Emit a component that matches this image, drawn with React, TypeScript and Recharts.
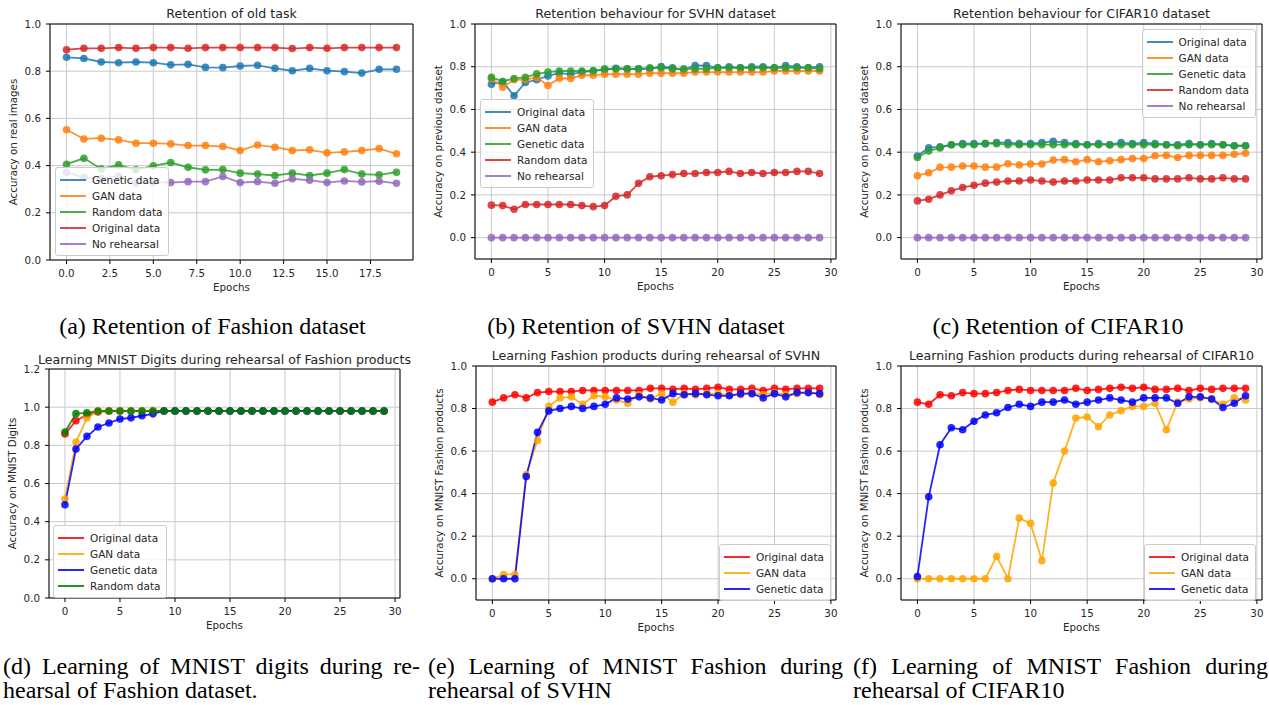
import React from 'react';
import { LineChart, Line, XAxis, YAxis, CartesianGrid, ReferenceArea, Legend } from 'recharts';

const FONT = '"DejaVu Sans", Verdana, sans-serif';
const SERIF = '"Liberation Serif", "Times New Roman", serif';

// matplotlib colours
const C_BLUE = '#1f77b4';
const C_ORANGE = '#ff7f0e';
const C_GREEN = '#2ca02c';
const C_RED = '#d62728';
const C_PURPLE = '#9467bd';
const N_RED = '#ff0000';
const N_ORANGE = '#ffa500';
const N_BLUE = '#0000ff';
const N_GREEN = '#008000';

const epochs20 = [0, 1, 2, 3, 4, 5, 6, 7, 8, 9, 10, 11, 12, 13, 14, 15, 16, 17, 18, 19];
const epochs30 = [0, 1, 2, 3, 4, 5, 6, 7, 8, 9, 10, 11, 12, 13, 14, 15, 16, 17, 18, 19, 20, 21, 22, 23, 24, 25, 26, 27, 28, 29];

const ticks20 = [0, 2.5, 5, 7.5, 10, 12.5, 15, 17.5];
const ticks30 = [0, 5, 10, 15, 20, 25, 30];
const yTicks10 = [0, 0.2, 0.4, 0.6, 0.8, 1.0];
const yTicks12 = [0, 0.2, 0.4, 0.6, 0.8, 1.0, 1.2];

// (a) retention of Fashion
const fashionGenetic = [0.859, 0.854, 0.839, 0.836, 0.839, 0.836, 0.827, 0.829, 0.816, 0.815, 0.822, 0.825, 0.812, 0.802, 0.812, 0.802, 0.798, 0.792, 0.808, 0.808];
const fashionGan = [0.552, 0.513, 0.516, 0.509, 0.495, 0.495, 0.492, 0.485, 0.485, 0.481, 0.464, 0.487, 0.478, 0.464, 0.467, 0.454, 0.458, 0.464, 0.472, 0.45];
const fashionRandom = [0.406, 0.431, 0.386, 0.403, 0.382, 0.399, 0.413, 0.393, 0.382, 0.383, 0.368, 0.364, 0.358, 0.368, 0.358, 0.368, 0.383, 0.364, 0.361, 0.372];
const fashionOriginal = [0.891, 0.897, 0.897, 0.9, 0.897, 0.9, 0.9, 0.897, 0.9, 0.9, 0.9, 0.9, 0.9, 0.896, 0.9, 0.897, 0.9, 0.9, 0.9, 0.9];
const fashionNone = [0.372, 0.349, 0.345, 0.355, 0.325, 0.33, 0.328, 0.332, 0.332, 0.354, 0.328, 0.332, 0.325, 0.344, 0.338, 0.328, 0.335, 0.331, 0.334, 0.325];

// (b) retention of SVHN
const svhnOriginal = [0.718, 0.73, 0.664, 0.726, 0.739, 0.757, 0.77, 0.765, 0.775, 0.781, 0.785, 0.793, 0.79, 0.79, 0.79, 0.801, 0.795, 0.785, 0.806, 0.805, 0.795, 0.8, 0.795, 0.8, 0.8, 0.795, 0.805, 0.8, 0.795, 0.8];
const svhnGan = [0.745, 0.704, 0.739, 0.74, 0.75, 0.712, 0.746, 0.745, 0.76, 0.76, 0.765, 0.765, 0.765, 0.765, 0.77, 0.77, 0.77, 0.77, 0.775, 0.775, 0.775, 0.775, 0.775, 0.775, 0.775, 0.78, 0.78, 0.78, 0.78, 0.78];
const svhnGenetic = [0.75, 0.731, 0.745, 0.75, 0.767, 0.775, 0.78, 0.78, 0.78, 0.78, 0.79, 0.79, 0.79, 0.79, 0.795, 0.795, 0.79, 0.79, 0.79, 0.79, 0.795, 0.795, 0.795, 0.795, 0.795, 0.795, 0.795, 0.795, 0.795, 0.79];
const svhnRandom = [0.152, 0.15, 0.133, 0.155, 0.155, 0.155, 0.155, 0.155, 0.15, 0.145, 0.15, 0.194, 0.2, 0.254, 0.285, 0.29, 0.295, 0.3, 0.3, 0.305, 0.305, 0.31, 0.3, 0.305, 0.3, 0.305, 0.305, 0.31, 0.31, 0.3];
const svhnNone = [0, 0, 0, 0, 0, 0, 0, 0, 0, 0, 0, 0, 0, 0, 0, 0, 0, 0, 0, 0, 0, 0, 0, 0, 0, 0, 0, 0, 0, 0];

// (c) retention of CIFAR10
const cifarOriginal = [0.382, 0.421, 0.425, 0.435, 0.44, 0.44, 0.44, 0.445, 0.445, 0.44, 0.44, 0.445, 0.451, 0.445, 0.44, 0.435, 0.44, 0.435, 0.445, 0.44, 0.445, 0.44, 0.435, 0.435, 0.44, 0.435, 0.44, 0.435, 0.43, 0.43];
const cifarGan = [0.29, 0.304, 0.329, 0.33, 0.335, 0.335, 0.33, 0.33, 0.346, 0.34, 0.345, 0.345, 0.363, 0.365, 0.355, 0.365, 0.355, 0.36, 0.365, 0.37, 0.37, 0.383, 0.385, 0.375, 0.385, 0.385, 0.385, 0.385, 0.39, 0.395];
const cifarGenetic = [0.375, 0.405, 0.42, 0.435, 0.435, 0.435, 0.44, 0.44, 0.435, 0.435, 0.435, 0.435, 0.435, 0.435, 0.435, 0.435, 0.435, 0.435, 0.435, 0.435, 0.435, 0.435, 0.435, 0.43, 0.435, 0.435, 0.435, 0.435, 0.43, 0.43];
const cifarRandom = [0.172, 0.18, 0.2, 0.219, 0.235, 0.245, 0.255, 0.26, 0.265, 0.265, 0.27, 0.265, 0.26, 0.265, 0.265, 0.27, 0.27, 0.27, 0.28, 0.28, 0.28, 0.275, 0.275, 0.275, 0.28, 0.275, 0.275, 0.28, 0.275, 0.275];
const cifarNone = [0, 0, 0, 0, 0, 0, 0, 0, 0, 0, 0, 0, 0, 0, 0, 0, 0, 0, 0, 0, 0, 0, 0, 0, 0, 0, 0, 0, 0, 0];

// (d) learning MNIST digits
const mnistOriginal = [0.859, 0.929, 0.96, 0.975, 0.98, 0.98, 0.98, 0.98, 0.98, 0.98, 0.98, 0.98, 0.98, 0.98, 0.98, 0.98, 0.98, 0.98, 0.98, 0.98, 0.98, 0.98, 0.98, 0.98, 0.98, 0.98, 0.98, 0.98, 0.98, 0.98];
const mnistGan = [0.519, 0.817, 0.943, 0.98, 0.98, 0.98, 0.98, 0.98, 0.98, 0.98, 0.98, 0.98, 0.98, 0.98, 0.98, 0.98, 0.98, 0.98, 0.98, 0.98, 0.98, 0.98, 0.98, 0.98, 0.98, 0.98, 0.98, 0.98, 0.98, 0.98];
const mnistGenetic = [0.489, 0.781, 0.847, 0.896, 0.917, 0.938, 0.944, 0.955, 0.965, 0.98, 0.98, 0.98, 0.98, 0.98, 0.98, 0.98, 0.98, 0.98, 0.98, 0.98, 0.98, 0.98, 0.98, 0.98, 0.98, 0.98, 0.98, 0.98, 0.98, 0.98];
const mnistRandom = [0.87, 0.966, 0.97, 0.98, 0.98, 0.98, 0.98, 0.98, 0.98, 0.98, 0.98, 0.98, 0.98, 0.98, 0.98, 0.98, 0.98, 0.98, 0.98, 0.98, 0.98, 0.98, 0.98, 0.98, 0.98, 0.98, 0.98, 0.98, 0.98, 0.98];

// (e) learning Fashion during SVHN rehearsal
const fsOriginal = [0.83, 0.85, 0.865, 0.85, 0.875, 0.88, 0.88, 0.88, 0.885, 0.885, 0.885, 0.885, 0.885, 0.885, 0.895, 0.895, 0.89, 0.895, 0.89, 0.895, 0.9, 0.89, 0.89, 0.895, 0.885, 0.895, 0.89, 0.895, 0.895, 0.895];
const fsGan = [0, 0.02, 0.02, 0.49, 0.65, 0.81, 0.85, 0.855, 0.82, 0.86, 0.855, 0.84, 0.825, 0.865, 0.845, 0.87, 0.83, 0.87, 0.865, 0.87, 0.87, 0.865, 0.865, 0.875, 0.865, 0.875, 0.865, 0.87, 0.875, 0.865];
const fsGenetic = [0, 0, 0, 0.48, 0.688, 0.789, 0.8, 0.81, 0.8, 0.81, 0.82, 0.85, 0.845, 0.855, 0.85, 0.84, 0.87, 0.865, 0.87, 0.865, 0.86, 0.86, 0.87, 0.87, 0.85, 0.87, 0.855, 0.875, 0.875, 0.87];

// (f) learning Fashion during CIFAR10 rehearsal
const fcOriginal = [0.83, 0.82, 0.865, 0.86, 0.875, 0.87, 0.87, 0.875, 0.885, 0.89, 0.885, 0.885, 0.885, 0.885, 0.895, 0.885, 0.89, 0.895, 0.9, 0.895, 0.9, 0.89, 0.89, 0.895, 0.885, 0.895, 0.89, 0.895, 0.895, 0.895];
const fcGan = [0, 0, 0, 0, 0, 0, 0, 0.105, 0, 0.285, 0.26, 0.085, 0.45, 0.6, 0.755, 0.76, 0.715, 0.77, 0.79, 0.81, 0.81, 0.825, 0.7, 0.83, 0.845, 0.85, 0.845, 0.82, 0.85, 0.84];
const fcGenetic = [0.01, 0.385, 0.63, 0.71, 0.7, 0.74, 0.77, 0.78, 0.805, 0.82, 0.81, 0.83, 0.83, 0.84, 0.82, 0.83, 0.84, 0.85, 0.84, 0.83, 0.85, 0.85, 0.85, 0.825, 0.855, 0.855, 0.845, 0.805, 0.825, 0.86];

type Series = { name: string; values: number[]; color: string };
type PanelProps = {
  left: number;
  top: number;
  w: number;
  h: number;
  titleY: number;
  title: string;
  yLabel: string;
  epochs: number[];
  series: Series[];
  xDomain: [number, number];
  xTicks: number[];
  xFmt: (v: number) => string;
  yDomain: [number, number];
  yTicks: number[];
  legend: { left?: number; right?: number; top: number };
};

const YW = 46;
const XH = 34;
const MT = 8;
const MR = 8;
const TXT = 10.3;
const tickStyle = { fontSize: TXT, fill: '#262626', fontFamily: FONT };

function LegendBox({ series }: { series: Series[] }) {
  return (
    <div
      style={{
        display: 'inline-block',
        padding: '4px 6px 3px 4px',
        border: '1px solid #cccccc',
        borderRadius: 3,
        background: 'rgba(255,255,255,0.8)',
        fontFamily: FONT,
        fontSize: 10.5,
        color: '#262626',
        whiteSpace: 'nowrap',
      }}
    >
      {series.map((s) => (
        <div key={s.name} style={{ display: 'flex', alignItems: 'center', height: 16 }}>
          <span style={{ display: 'inline-block', width: 26, height: 2, background: s.color, opacity: 0.85, marginRight: 6 }} />
          <span>{s.name}</span>
        </div>
      ))}
    </div>
  );
}

function Panel(p: PanelProps) {
  const data = p.epochs.map((e, i) => {
    const row: Record<string, number> = { epoch: e };
    p.series.forEach((s, k) => {
      row['s' + k] = s.values[i];
    });
    return row;
  });
  const chartLeft = p.left - YW;
  const chartTop = p.top - MT;
  const width = YW + p.w + MR;
  const height = MT + p.h + XH;
  const lg: React.CSSProperties = { top: p.legend.top - chartTop, width: 'auto' };
  if (p.legend.right !== undefined) {
    lg.left = 'auto';
    lg.right = chartLeft + width - p.legend.right;
  } else {
    lg.left = (p.legend.left ?? 0) - chartLeft;
  }
  return (
    <>
      <div
        style={{
          position: 'absolute',
          left: p.left + p.w / 2 - 250,
          width: 500,
          top: p.titleY - 8,
          lineHeight: '16px',
          textAlign: 'center',
          fontFamily: FONT,
          fontSize: 12.6,
          color: '#262626',
          whiteSpace: 'nowrap',
        }}
      >
        {p.title}
      </div>
      <div style={{ position: 'absolute', left: chartLeft, top: chartTop }}>
        <LineChart width={width} height={height} data={data} margin={{ top: MT, right: MR, left: 0, bottom: 0 }}>
          <CartesianGrid stroke="#cacaca" strokeWidth={1} />
          <XAxis
            type="number"
            dataKey="epoch"
            domain={p.xDomain}
            ticks={p.xTicks}
            tickFormatter={p.xFmt}
            interval={0}
            height={XH}
            axisLine={false}
            tickLine={{ stroke: '#000' }}
            tickSize={4}
            tickMargin={6}
            tick={tickStyle}
            label={{ value: 'Epochs', position: 'insideBottom', offset: 3, style: { fontSize: TXT, fill: '#262626', fontFamily: FONT } }}
          />
          <YAxis
            type="number"
            domain={p.yDomain}
            ticks={p.yTicks}
            tickFormatter={(v: number) => v.toFixed(1)}
            interval={0}
            width={YW}
            axisLine={false}
            tickLine={{ stroke: '#000' }}
            tickSize={4}
            tickMargin={5}
            tick={tickStyle}
            label={{ value: p.yLabel, angle: -90, position: 'center', dx: -14, style: { fontSize: TXT, fill: '#262626', fontFamily: FONT } }}
          />
          <ReferenceArea
            x1={p.xDomain[0]}
            x2={p.xDomain[1]}
            y1={p.yDomain[0]}
            y2={p.yDomain[1]}
            fill="none"
            fillOpacity={0}
            stroke="#000"
            strokeWidth={1}
            ifOverflow="visible"
          />
          {p.series.map((s, k) => (
            <Line
              key={s.name}
              type="linear"
              dataKey={'s' + k}
              name={s.name}
              stroke={s.color}
              strokeWidth={1.8}
              strokeOpacity={0.85}
              dot={{ r: 3.8, fill: s.color, fillOpacity: 0.85, stroke: 'none' }}
              activeDot={false}
              isAnimationActive={false}
            />
          ))}
          <Legend layout="vertical" align="center" verticalAlign="middle" wrapperStyle={lg} content={() => <LegendBox series={p.series} />} />
        </LineChart>
      </div>
    </>
  );
}

const fmt1 = (v: number) => v.toFixed(1);
const fmt0 = (v: number) => String(v);

const capStyle: React.CSSProperties = {
  position: 'absolute',
  fontFamily: SERIF,
  fontSize: 24,
  lineHeight: '24px',
  color: '#000',
  whiteSpace: 'nowrap',
};

function TwoLineCaption({ left, width, first, second }: { left: number; width: number; first: string; second: string }) {
  return (
    <div style={{ ...capStyle, left, top: 654, width, whiteSpace: 'normal' }}>
      <div style={{ textAlign: 'justify', textAlignLast: 'justify' }}>{first}</div>
      <div>{second}</div>
    </div>
  );
}

export default function App() {
  return (
    <div style={{ position: 'absolute', left: 0, top: 0, width: 1269, height: 705, background: '#fff', overflow: 'hidden' }}>
      <Panel
        left={50}
        top={24}
        w={363}
        h={236}
        titleY={14}
        title="Retention of old task"
        yLabel="Accuracy on real images"
        epochs={epochs20}
        xDomain={[-0.95, 19.95]}
        xTicks={ticks20}
        xFmt={fmt1}
        yDomain={[0, 1]}
        yTicks={yTicks10}
        legend={{ left: 55, top: 167 }}
        series={[
          { name: 'Genetic data', values: fashionGenetic, color: C_BLUE },
          { name: 'GAN data', values: fashionGan, color: C_ORANGE },
          { name: 'Random data', values: fashionRandom, color: C_GREEN },
          { name: 'Original data', values: fashionOriginal, color: C_RED },
          { name: 'No rehearsal', values: fashionNone, color: C_PURPLE },
        ]}
      />
      <Panel
        left={475}
        top={24}
        w={361}
        h={235}
        titleY={14}
        title="Retention behaviour for SVHN dataset"
        yLabel="Accuracy on previous dataset"
        epochs={epochs30}
        xDomain={[-1.45, 30.45]}
        xTicks={ticks30}
        xFmt={fmt0}
        yDomain={[-0.1, 1]}
        yTicks={yTicks10}
        legend={{ left: 480, top: 99 }}
        series={[
          { name: 'Original data', values: svhnOriginal, color: C_BLUE },
          { name: 'GAN data', values: svhnGan, color: C_ORANGE },
          { name: 'Genetic data', values: svhnGenetic, color: C_GREEN },
          { name: 'Random data', values: svhnRandom, color: C_RED },
          { name: 'No rehearsal', values: svhnNone, color: C_PURPLE },
        ]}
      />
      <Panel
        left={901}
        top={24}
        w={361}
        h={235}
        titleY={14}
        title="Retention behaviour for CIFAR10 dataset"
        yLabel="Accuracy on previous dataset"
        epochs={epochs30}
        xDomain={[-1.45, 30.45]}
        xTicks={ticks30}
        xFmt={fmt0}
        yDomain={[-0.1, 1]}
        yTicks={yTicks10}
        legend={{ right: 1256, top: 29 }}
        series={[
          { name: 'Original data', values: cifarOriginal, color: C_BLUE },
          { name: 'GAN data', values: cifarGan, color: C_ORANGE },
          { name: 'Genetic data', values: cifarGenetic, color: C_GREEN },
          { name: 'Random data', values: cifarRandom, color: C_RED },
          { name: 'No rehearsal', values: cifarNone, color: C_PURPLE },
        ]}
      />
      <Panel
        left={49}
        top={369}
        w={351}
        h={229}
        titleY={360}
        title="Learning MNIST Digits during rehearsal of Fashion products"
        yLabel="Accuracy on MNIST Digits"
        epochs={epochs30}
        xDomain={[-1.45, 30.45]}
        xTicks={ticks30}
        xFmt={fmt0}
        yDomain={[0, 1.2]}
        yTicks={yTicks12}
        legend={{ left: 53, top: 525 }}
        series={[
          { name: 'Original data', values: mnistOriginal, color: N_RED },
          { name: 'GAN data', values: mnistGan, color: N_ORANGE },
          { name: 'Genetic data', values: mnistGenetic, color: N_BLUE },
          { name: 'Random data', values: mnistRandom, color: N_GREEN },
        ]}
      />
      <Panel
        left={476}
        top={366}
        w={360}
        h={234}
        titleY={356}
        title="Learning Fashion products during rehearsal of SVHN"
        yLabel="Accuracy on MNIST Fashion products"
        epochs={epochs30}
        xDomain={[-1.45, 30.45]}
        xTicks={ticks30}
        xFmt={fmt0}
        yDomain={[-0.1, 1]}
        yTicks={yTicks10}
        legend={{ right: 831, top: 544 }}
        series={[
          { name: 'Original data', values: fsOriginal, color: N_RED },
          { name: 'GAN data', values: fsGan, color: N_ORANGE },
          { name: 'Genetic data', values: fsGenetic, color: N_BLUE },
        ]}
      />
      <Panel
        left={901}
        top={366}
        w={361}
        h={234}
        titleY={356}
        title="Learning Fashion products during rehearsal of CIFAR10"
        yLabel="Accuracy on MNIST Fashion products"
        epochs={epochs30}
        xDomain={[-1.45, 30.45]}
        xTicks={ticks30}
        xFmt={fmt0}
        yDomain={[-0.1, 1]}
        yTicks={yTicks10}
        legend={{ right: 1256, top: 544 }}
        series={[
          { name: 'Original data', values: fcOriginal, color: N_RED },
          { name: 'GAN data', values: fcGan, color: N_ORANGE },
          { name: 'Genetic data', values: fcGenetic, color: N_BLUE },
        ]}
      />

      <div style={{ ...capStyle, left: 0, width: 425, top: 314, textAlign: 'center' }}>(a) Retention of Fashion dataset</div>
      <div style={{ ...capStyle, left: 425, width: 422, top: 314, textAlign: 'center' }}>(b) Retention of SVHN dataset</div>
      <div style={{ ...capStyle, left: 847, width: 422, top: 314, textAlign: 'center' }}>(c) Retention of CIFAR10</div>

      <TwoLineCaption left={3} width={417} first="(d) Learning of MNIST digits during re-" second="hearsal of Fashion dataset." />
      <TwoLineCaption left={428} width={415} first="(e) Learning of MNIST Fashion during" second="rehearsal of SVHN" />
      <TwoLineCaption left={853} width={415} first="(f) Learning of MNIST Fashion during" second="rehearsal of CIFAR10" />
    </div>
  );
}
